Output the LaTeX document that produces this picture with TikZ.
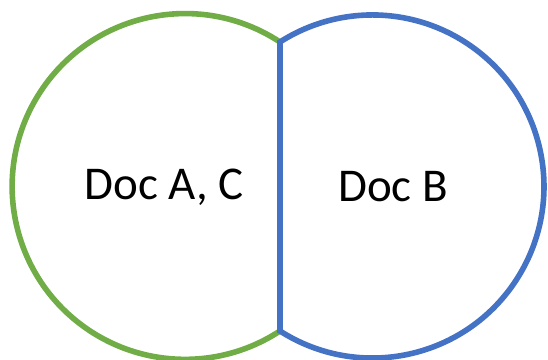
\documentclass[tikz,border=0pt]{standalone}
\usepackage{fontspec}
\setmainfont{Carlito}
\definecolor{docgreen}{HTML}{70AD47}
\definecolor{docblue}{HTML}{4472C4}
\begin{document}
\begin{tikzpicture}[x=1pt, y=1pt, line width=5.6pt,
    every node/.style={font=\fontsize{47}{50}\selectfont, inner sep=0pt}]
  \useasboundingbox (0,0) rectangle (548,359);
  % shared chord where the two sets meet
  \coordinate (top) at (280,317);
  \coordinate (bot) at (280,28);
  % left set: green arc closed by the chord
  \draw[docgreen] (top) arc[start angle=56.68, end angle=303.32, radius=172.9];
  % right set: blue arc plus the chord itself
  \draw[docblue, line join=miter] (bot) arc[start angle=-122.6, end angle=122.6, radius=171.55] -- cycle;
  \node (docac) at (164,172) {Doc A, C};
  \node (docb) at (393,172) {Doc B};
\end{tikzpicture}
\end{document}
